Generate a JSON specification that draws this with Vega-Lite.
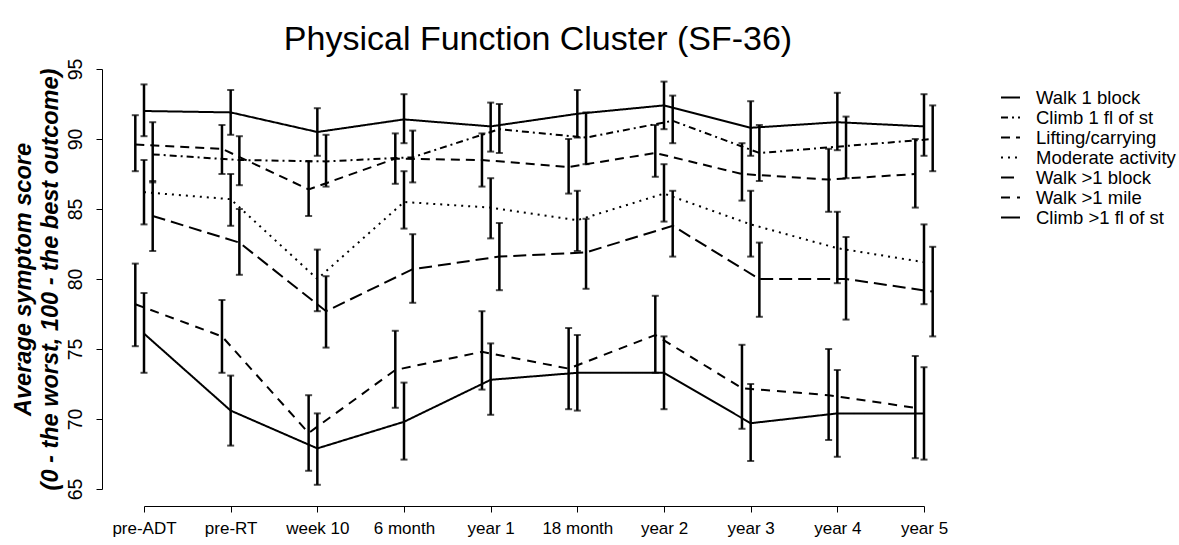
{
  "$schema": "https://vega.github.io/schema/vega-lite/v6.json",
  "width": 780,
  "height": 420,
  "autosize": {"type": "none"},
  "padding": {"left": 144, "top": 69, "right": 255, "bottom": 56},
  "background": "white",
  "config": {"view": {"stroke": null}},
  "title": {"text": "Physical Function Cluster (SF-36)", "fontSize": 34, "font": "Liberation Sans", "fontWeight": "normal", "color": "black", "anchor": "middle", "frame": "group", "offset": 1, "dx": 4},
  "data": {"values": [
    {"series": "Walk 1 block", "dodge": 0, "time": "pre-ADT", "mean": 92.0, "lo": 90.2, "hi": 93.9},
    {"series": "Walk 1 block", "dodge": 0, "time": "pre-RT", "mean": 91.9, "lo": 90.3, "hi": 93.5},
    {"series": "Walk 1 block", "dodge": 0, "time": "week 10", "mean": 90.5, "lo": 88.8, "hi": 92.2},
    {"series": "Walk 1 block", "dodge": 0, "time": "6 month", "mean": 91.4, "lo": 89.7, "hi": 93.2},
    {"series": "Walk 1 block", "dodge": 0, "time": "year 1", "mean": 90.9, "lo": 89.1, "hi": 92.6},
    {"series": "Walk 1 block", "dodge": 0, "time": "18 month", "mean": 91.8, "lo": 90.1, "hi": 93.5},
    {"series": "Walk 1 block", "dodge": 0, "time": "year 2", "mean": 92.4, "lo": 90.7, "hi": 94.1},
    {"series": "Walk 1 block", "dodge": 0, "time": "year 3", "mean": 90.8, "lo": 88.8, "hi": 92.7},
    {"series": "Walk 1 block", "dodge": 0, "time": "year 4", "mean": 91.2, "lo": 89.2, "hi": 93.3},
    {"series": "Walk 1 block", "dodge": 0, "time": "year 5", "mean": 90.9, "lo": 88.8, "hi": 93.2},

    {"series": "Climb 1 fl of st", "dodge": 1, "time": "pre-ADT", "mean": 88.9, "lo": 86.9, "hi": 91.2},
    {"series": "Climb 1 fl of st", "dodge": 1, "time": "pre-RT", "mean": 88.5, "lo": 86.7, "hi": 90.2},
    {"series": "Climb 1 fl of st", "dodge": 1, "time": "week 10", "mean": 88.4, "lo": 86.6, "hi": 90.3},
    {"series": "Climb 1 fl of st", "dodge": 1, "time": "6 month", "mean": 88.7, "lo": 86.9, "hi": 90.6},
    {"series": "Climb 1 fl of st", "dodge": 1, "time": "year 1", "mean": 90.7, "lo": 89.0, "hi": 92.5},
    {"series": "Climb 1 fl of st", "dodge": 1, "time": "18 month", "mean": 90.1, "lo": 88.2, "hi": 91.9},
    {"series": "Climb 1 fl of st", "dodge": 1, "time": "year 2", "mean": 91.3, "lo": 89.7, "hi": 93.1},
    {"series": "Climb 1 fl of st", "dodge": 1, "time": "year 3", "mean": 89.0, "lo": 87.0, "hi": 91.0},
    {"series": "Climb 1 fl of st", "dodge": 1, "time": "year 4", "mean": 89.5, "lo": 87.2, "hi": 91.6},
    {"series": "Climb 1 fl of st", "dodge": 1, "time": "year 5", "mean": 90.0, "lo": 87.7, "hi": 92.4},

    {"series": "Lifting/carrying", "dodge": -1, "time": "pre-ADT", "mean": 89.6, "lo": 87.7, "hi": 91.7},
    {"series": "Lifting/carrying", "dodge": -1, "time": "pre-RT", "mean": 89.3, "lo": 87.5, "hi": 91.0},
    {"series": "Lifting/carrying", "dodge": -1, "time": "week 10", "mean": 86.4, "lo": 84.5, "hi": 88.4},
    {"series": "Lifting/carrying", "dodge": -1, "time": "6 month", "mean": 88.6, "lo": 86.8, "hi": 90.4},
    {"series": "Lifting/carrying", "dodge": -1, "time": "year 1", "mean": 88.5, "lo": 86.6, "hi": 90.4},
    {"series": "Lifting/carrying", "dodge": -1, "time": "18 month", "mean": 88.0, "lo": 86.1, "hi": 90.0},
    {"series": "Lifting/carrying", "dodge": -1, "time": "year 2", "mean": 89.0, "lo": 87.3, "hi": 91.0},
    {"series": "Lifting/carrying", "dodge": -1, "time": "year 3", "mean": 87.5, "lo": 85.6, "hi": 89.7},
    {"series": "Lifting/carrying", "dodge": -1, "time": "year 4", "mean": 87.1, "lo": 84.8, "hi": 89.3},
    {"series": "Lifting/carrying", "dodge": -1, "time": "year 5", "mean": 87.5, "lo": 85.1, "hi": 90.0},

    {"series": "Moderate activity", "dodge": 0, "time": "pre-ADT", "mean": 86.2, "lo": 83.9, "hi": 88.5},
    {"series": "Moderate activity", "dodge": 0, "time": "pre-RT", "mean": 85.7, "lo": 83.8, "hi": 87.5},
    {"series": "Moderate activity", "dodge": 0, "time": "week 10", "mean": 80.0, "lo": 77.7, "hi": 82.1},
    {"series": "Moderate activity", "dodge": 0, "time": "6 month", "mean": 85.5, "lo": 83.6, "hi": 87.7},
    {"series": "Moderate activity", "dodge": 0, "time": "year 1", "mean": 85.1, "lo": 82.9, "hi": 87.2},
    {"series": "Moderate activity", "dodge": 0, "time": "18 month", "mean": 84.2, "lo": 82.0, "hi": 86.3},
    {"series": "Moderate activity", "dodge": 0, "time": "year 2", "mean": 86.1, "lo": 84.1, "hi": 88.2},
    {"series": "Moderate activity", "dodge": 0, "time": "year 3", "mean": 83.9, "lo": 81.6, "hi": 86.3},
    {"series": "Moderate activity", "dodge": 0, "time": "year 4", "mean": 82.2, "lo": 79.7, "hi": 84.8},
    {"series": "Moderate activity", "dodge": 0, "time": "year 5", "mean": 81.2, "lo": 78.2, "hi": 83.9},

    {"series": "Walk >1 block", "dodge": 1, "time": "pre-ADT", "mean": 84.5, "lo": 82.0, "hi": 87.0},
    {"series": "Walk >1 block", "dodge": 1, "time": "pre-RT", "mean": 82.6, "lo": 80.3, "hi": 85.0},
    {"series": "Walk >1 block", "dodge": 1, "time": "week 10", "mean": 77.7, "lo": 75.1, "hi": 80.2},
    {"series": "Walk >1 block", "dodge": 1, "time": "6 month", "mean": 80.7, "lo": 78.3, "hi": 83.2},
    {"series": "Walk >1 block", "dodge": 1, "time": "year 1", "mean": 81.6, "lo": 79.2, "hi": 84.0},
    {"series": "Walk >1 block", "dodge": 1, "time": "18 month", "mean": 81.9, "lo": 79.3, "hi": 84.3},
    {"series": "Walk >1 block", "dodge": 1, "time": "year 2", "mean": 83.8, "lo": 81.6, "hi": 86.3},
    {"series": "Walk >1 block", "dodge": 1, "time": "year 3", "mean": 80.0, "lo": 77.3, "hi": 82.6},
    {"series": "Walk >1 block", "dodge": 1, "time": "year 4", "mean": 80.0, "lo": 77.1, "hi": 83.0},
    {"series": "Walk >1 block", "dodge": 1, "time": "year 5", "mean": 79.1, "lo": 75.9, "hi": 82.3},

    {"series": "Walk >1 mile", "dodge": -1, "time": "pre-ADT", "mean": 78.2, "lo": 75.2, "hi": 81.1},
    {"series": "Walk >1 mile", "dodge": -1, "time": "pre-RT", "mean": 75.9, "lo": 73.3, "hi": 78.5},
    {"series": "Walk >1 mile", "dodge": -1, "time": "week 10", "mean": 69.0, "lo": 66.3, "hi": 71.7},
    {"series": "Walk >1 mile", "dodge": -1, "time": "6 month", "mean": 73.5, "lo": 70.8, "hi": 76.3},
    {"series": "Walk >1 mile", "dodge": -1, "time": "year 1", "mean": 74.8, "lo": 72.1, "hi": 77.7},
    {"series": "Walk >1 mile", "dodge": -1, "time": "18 month", "mean": 73.6, "lo": 70.7, "hi": 76.5},
    {"series": "Walk >1 mile", "dodge": -1, "time": "year 2", "mean": 76.0, "lo": 73.3, "hi": 78.8},
    {"series": "Walk >1 mile", "dodge": -1, "time": "year 3", "mean": 72.2, "lo": 69.3, "hi": 75.3},
    {"series": "Walk >1 mile", "dodge": -1, "time": "year 4", "mean": 71.7, "lo": 68.5, "hi": 75.0},
    {"series": "Walk >1 mile", "dodge": -1, "time": "year 5", "mean": 70.8, "lo": 67.2, "hi": 74.5},

    {"series": "Climb >1 fl of st", "dodge": 0, "time": "pre-ADT", "mean": 76.1, "lo": 73.3, "hi": 79.0},
    {"series": "Climb >1 fl of st", "dodge": 0, "time": "pre-RT", "mean": 70.6, "lo": 68.1, "hi": 73.1},
    {"series": "Climb >1 fl of st", "dodge": 0, "time": "week 10", "mean": 67.9, "lo": 65.3, "hi": 70.4},
    {"series": "Climb >1 fl of st", "dodge": 0, "time": "6 month", "mean": 69.8, "lo": 67.1, "hi": 72.6},
    {"series": "Climb >1 fl of st", "dodge": 0, "time": "year 1", "mean": 72.8, "lo": 70.3, "hi": 75.4},
    {"series": "Climb >1 fl of st", "dodge": 0, "time": "18 month", "mean": 73.3, "lo": 70.6, "hi": 76.0},
    {"series": "Climb >1 fl of st", "dodge": 0, "time": "year 2", "mean": 73.3, "lo": 70.7, "hi": 75.9},
    {"series": "Climb >1 fl of st", "dodge": 0, "time": "year 3", "mean": 69.7, "lo": 67.0, "hi": 72.5},
    {"series": "Climb >1 fl of st", "dodge": 0, "time": "year 4", "mean": 70.4, "lo": 67.3, "hi": 73.5},
    {"series": "Climb >1 fl of st", "dodge": 0, "time": "year 5", "mean": 70.4, "lo": 67.1, "hi": 73.7}
  ]},
  "encoding": {
    "x": {
      "field": "time", "type": "ordinal",
      "sort": ["pre-ADT", "pre-RT", "week 10", "6 month", "year 1", "18 month", "year 2", "year 3", "year 4", "year 5"],
      "scale": {"type": "point", "padding": 0},
      "axis": {"title": null, "labelAngle": 0, "labelFontSize": 17, "labelFont": "Liberation Sans", "labelColor": "black", "tickColor": "black", "domainColor": "black", "tickSize": 6, "offset": 17, "labelPadding": 8, "grid": false}
    },
    "xOffset": {"field": "dodge", "type": "quantitative", "scale": {"domain": [-1, 1], "range": [-8.7, 8.7]}}
  },
  "layer": [
    {
      "mark": {"type": "line", "color": "black", "strokeWidth": 2},
      "encoding": {
        "y": {
          "field": "mean", "type": "quantitative",
          "scale": {"domain": [65, 95], "nice": false, "zero": false},
          "axis": {
            "title": ["Average symptom score", "(0 - the worst, 100 - the best outcome)"],
            "titleFont": "Liberation Sans", "titleFontSize": 23.5, "titleFontStyle": "italic", "titleFontWeight": "bold", "titleColor": "black", "titleLineHeight": 27, "titlePadding": 3,
            "values": [65, 70, 75, 80, 85, 90, 95],
            "labelAngle": -90, "labelFontSize": 19.5, "labelFont": "Liberation Sans", "labelColor": "black",
            "tickColor": "black", "domainColor": "black", "tickSize": 6, "offset": 42, "labelPadding": 11, "grid": false
          }
        },
        "strokeDash": {
          "field": "series", "type": "nominal",
          "scale": {
            "domain": ["Walk 1 block", "Climb 1 fl of st", "Lifting/carrying", "Moderate activity", "Walk >1 block", "Walk >1 mile", "Climb >1 fl of st"],
            "range": [[1, 0], [7, 4, 2, 4], [9, 6], [2, 5], [13, 6], [9, 7], [1, 0]]
          },
          "legend": {"title": null, "orient": "none", "legendX": 856, "legendY": 18, "symbolType": "stroke", "symbolSize": 361, "symbolStrokeWidth": 2, "symbolStrokeColor": "black", "labelFontSize": 18.5, "labelFont": "Liberation Sans", "labelColor": "black", "labelOffset": 15, "rowPadding": 0, "labelLimit": 0}
        }
      }
    },
    {
      "mark": {"type": "rule", "color": "black", "strokeWidth": 2.5},
      "encoding": {
        "y": {"field": "lo", "type": "quantitative"},
        "y2": {"field": "hi"}
      }
    },
    {
      "mark": {"type": "tick", "color": "black", "size": 7, "thickness": 2, "orient": "horizontal"},
      "encoding": {"y": {"field": "lo", "type": "quantitative"}}
    },
    {
      "mark": {"type": "tick", "color": "black", "size": 7, "thickness": 2, "orient": "horizontal"},
      "encoding": {"y": {"field": "hi", "type": "quantitative"}}
    }
  ]
}
